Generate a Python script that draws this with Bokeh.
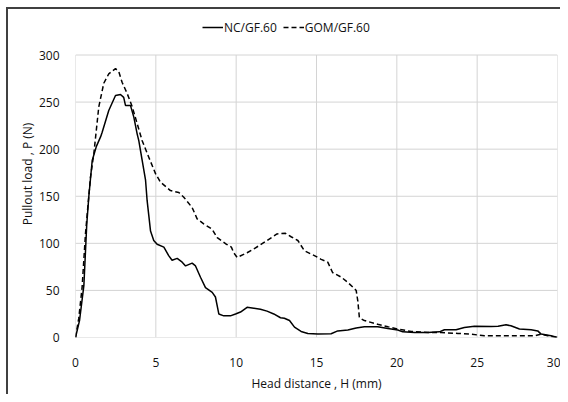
from bokeh.plotting import figure
from bokeh.models import Range1d, FixedTicker, Legend, LegendItem
from bokeh.embed import file_html
from bokeh.resources import INLINE

# NC/GF.60 (solid)
nc_x = [0, 0.25, 0.52, 0.7, 0.83, 1.04, 1.3, 1.56, 1.66, 2.07, 2.49, 2.8, 3.0, 3.11, 3.42,
        3.63, 3.84, 3.94, 4.15, 4.36, 4.46, 4.56, 4.67, 4.87, 5.08, 5.5, 5.8, 6.01, 6.33,
        6.64, 6.85, 7.26, 7.47, 7.78, 8.09, 8.51, 8.71, 8.92, 9.23, 9.64, 9.96, 10.27,
        10.68, 11.1, 11.51, 11.92, 12.34, 12.76, 13.0, 13.32, 13.63, 14.04, 14.46, 15.08,
        15.91, 16.32, 16.95, 17.47, 17.98, 18.81, 19.44, 20.06, 20.37, 21.1, 21.93, 22.65,
        22.96, 23.69, 24.2, 24.83, 25.87, 26.3, 26.8, 27.1, 27.63, 28.36, 28.77, 28.98,
        29.6, 30]
nc_y = [0, 18, 55, 120, 150, 188, 203, 213, 218, 241, 257, 258, 255, 246.5, 246.5,
        234, 216, 209, 188, 167, 145, 130, 113, 103, 99, 96, 87, 82, 84,
        80, 76, 79, 76, 64, 53, 48, 43, 25, 23, 23, 25, 27,
        32, 31, 30, 28, 25, 21, 20.5, 18, 11, 6.4, 4.3, 3.6,
        4, 7, 8, 10, 11.4, 11.4, 9.6, 8, 6, 5.3, 5.3, 6,
        8.2, 8.2, 10.6, 12, 11.7, 12, 13.5, 12.4, 9, 8.2, 7, 3.6,
        1.8, 0]

# GOM/GF.60 (dashed)
gom_x = [0, 0.2, 0.41, 0.62, 0.93, 1.14, 1.45, 1.76, 2.07, 2.49, 2.7, 2.9, 3.22, 3.53,
         3.84, 4.15, 4.56, 4.98, 5.29, 5.91, 6.43, 6.74, 7.26, 7.57, 7.98, 8.5, 8.82,
         9.4, 9.7, 9.85, 10.06, 10.68, 11.1, 11.92, 12.54, 13.07, 13.42, 13.84, 14.25,
         14.87, 15.29, 15.7, 16.0, 16.55, 16.95, 17.47, 17.57, 17.67, 17.98, 18.81, 19.44,
         20.06, 20.9, 22.1, 22.75, 23.8, 24.6, 25.45, 27.52, 28.6, 28.98, 29.4, 30]
gom_y = [0, 20, 53, 110, 170, 195, 245, 270, 280, 285.5, 282, 271, 259, 245,
         227, 209, 191.5, 174, 165, 156, 154, 149, 138, 126, 120.6, 115, 106,
         99, 96, 90, 85, 90, 94, 103, 110, 110.6, 107, 103, 92,
         87, 83, 80, 69, 64, 58.5, 50, 39, 21, 18, 14, 11.4,
         9, 6.4, 5.3, 5.3, 4.3, 3.6, 1.8, 1.8, 2, 3.6, 1.8, 0]

x_ticks = [0, 5, 10, 15, 20, 25, 30]
y_ticks = [0, 50, 100, 150, 200, 250, 300]
series_names = ["NC/GF.60", "GOM/GF.60"]
x_label = "Head distance , H (mm)"
y_label = "Pullout load , P (N)"

FONT = "Open Sans"
W, H = 560, 394
B_LEFT, B_RIGHT, B_TOP, B_BOTTOM = 75, 3, 10, 57
PLOT_PX_300 = 282.5  # pixel height of the 0..300 span
frame_h = H - B_TOP - B_BOTTOM
y_top = y_ticks[-1] * frame_h / PLOT_PX_300  # extra room above 300 for the legend

p = figure(width=W, height=H, output_backend="svg", toolbar_location=None,
           x_range=Range1d(x_ticks[0], x_ticks[-1]), y_range=Range1d(0, y_top),
           min_border_left=B_LEFT, min_border_right=B_RIGHT,
           min_border_top=B_TOP, min_border_bottom=B_BOTTOM)
p.grid.visible = False
p.outline_line_color = None
p.background_fill_color = None
p.border_fill_color = None
# chart-area frame (dark line on the left and top, as in the reference)
p.styles = {"background": "linear-gradient(#404040,#404040) 6px 7px / 2px 100% no-repeat, "
                          "linear-gradient(#404040,#404040) 6px 7px / 100% 2px no-repeat, #ffffff"}

# grid (only over the 0..30 x 0..300 area)
GRID = "#d4d4d4"
p.segment(x0=x_ticks, y0=[y_ticks[0]] * len(x_ticks), x1=x_ticks, y1=[y_ticks[-1]] * len(x_ticks),
          line_color=GRID, line_width=1)
p.segment(x0=[x_ticks[0]] * len(y_ticks), y0=y_ticks, x1=[x_ticks[-1]] * len(y_ticks), y1=y_ticks,
          line_color=GRID, line_width=1)

r1 = p.line(nc_x, nc_y, line_color="black", line_width=1.5)
r2 = p.line(gom_x, gom_y, line_color="black", line_width=1.5, line_dash="5 3")

p.xaxis.ticker = FixedTicker(ticks=x_ticks)
p.yaxis.ticker = FixedTicker(ticks=y_ticks)
for ax in (p.xaxis[0], p.yaxis[0]):
    ax.axis_line_color = None
    ax.major_tick_line_color = None
    ax.minor_tick_line_color = None
    ax.major_tick_out = 0
    ax.major_tick_in = 0
    ax.major_label_text_font = FONT
    ax.major_label_text_font_size = "12px"
    ax.major_label_text_color = "#111111"
    ax.axis_label_text_font = FONT
    ax.axis_label_text_font_size = "12px"
    ax.axis_label_text_font_style = "normal"
    ax.axis_label_text_color = "#111111"

p.xaxis.axis_label = x_label
p.yaxis.axis_label = y_label
p.xaxis.major_label_standoff = 20
p.xaxis.axis_label_standoff = 5
p.yaxis.major_label_standoff = 16
p.yaxis.axis_label_standoff = 0

legend = Legend(items=[LegendItem(label=series_names[0], renderers=[r1]),
                       LegendItem(label=series_names[1], renderers=[r2])],
                orientation="horizontal", location=(127, 300),
                glyph_width=21, label_standoff=1, spacing=6, padding=0, margin=0,
                border_line_color=None, background_fill_alpha=0,
                label_text_font=FONT, label_text_font_size="12px", label_text_color="#111111")
p.add_layout(legend)

open("out.html", "w").write(file_html(p, INLINE))
